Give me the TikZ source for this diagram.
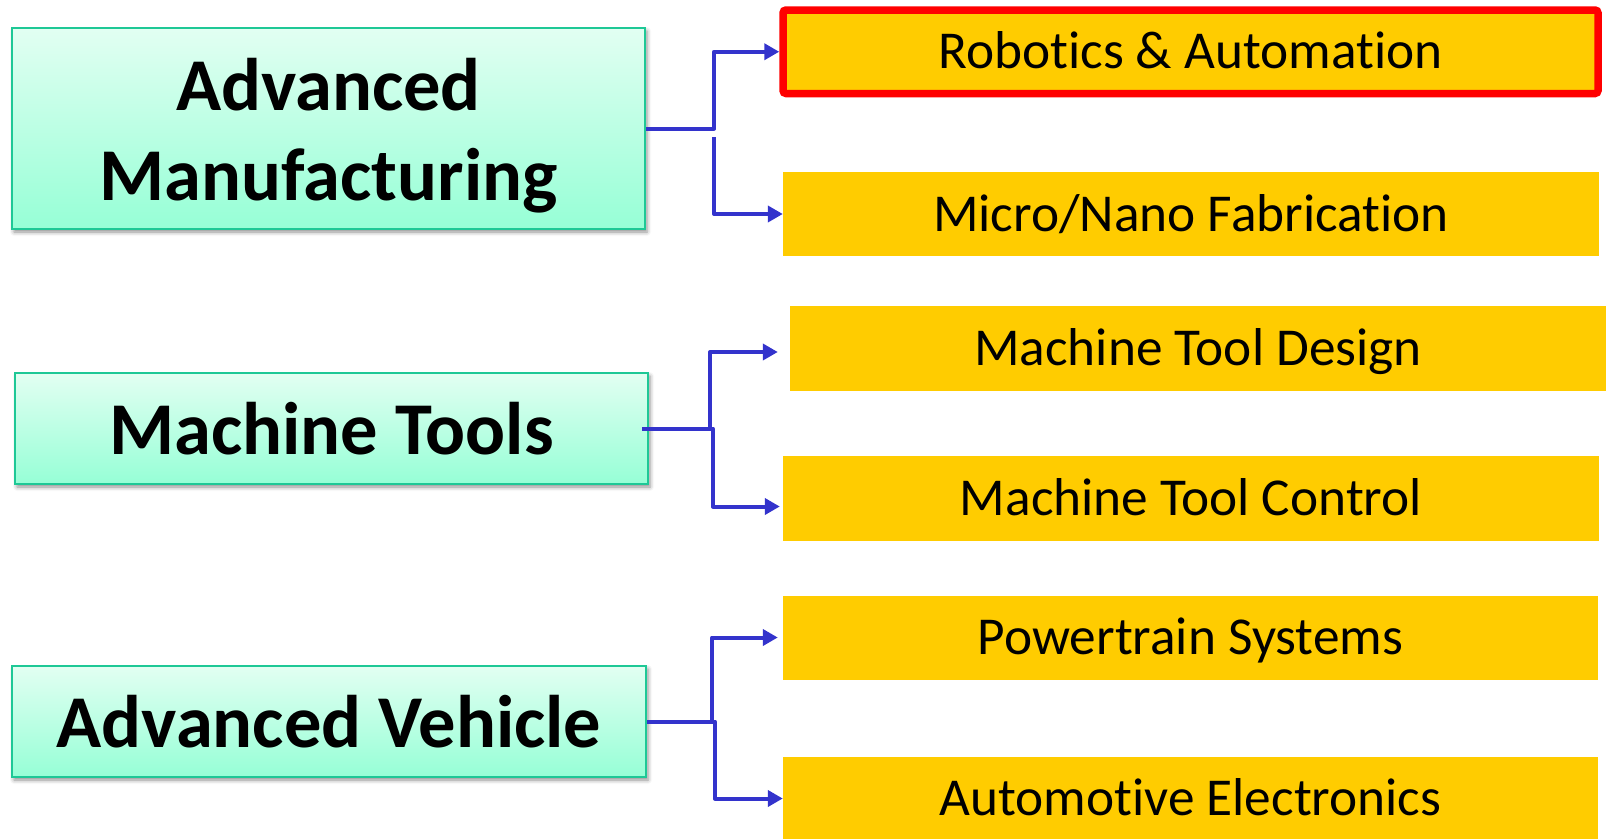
\documentclass[tikz,border=0pt]{standalone}
\usepackage{fontspec}
\setmainfont{Carlito}[Ligatures=NoCommon]
\usetikzlibrary{arrows.meta,shadows.blur}

\definecolor{boxedge}{RGB}{30,200,150}
\definecolor{mintTop}{RGB}{226,255,242}
\definecolor{mintBot}{RGB}{150,255,214}
\definecolor{gold}{RGB}{255,204,0}
\definecolor{linkblue}{RGB}{51,51,204}

\tikzset{
  areabox/.style={draw=boxedge, line width=2pt, top color=mintTop, bottom color=mintBot,
    inner sep=0pt, align=center, font=\fontsize{74.5}{90}\selectfont\bfseries,
    blur shadow={shadow xshift=2pt, shadow yshift=-3pt, shadow blur radius=4pt, shadow opacity=45}},
  topicbox/.style={fill=gold, inner sep=0pt, font=\fontsize{53.3}{60}\selectfont,
    text height=34pt, text depth=0pt},
  link/.style={draw=linkblue, line width=4pt, line join=round,
    -{Triangle[length=15pt,width=16pt]}},
}

\begin{document}
\begin{tikzpicture}[x=1pt,y=-1pt]
\useasboundingbox (0,0) rectangle (1606,838);

% research areas
\node[areabox, minimum width=633pt, minimum height=201pt] (am) at (328.5,128.5)
  {\rule{0pt}{66pt}Advanced\\Manufacturing};
\node[areabox, minimum width=633pt, minimum height=111pt] (mt) at (331.5,428.5) {Machine Tools};
\node[areabox, minimum width=634pt, minimum height=111pt] (av) at (329,721.5) {Advanced Vehicle};

% topics
\node[topicbox, draw=red, line width=7.5pt, rounded corners=3pt,
      minimum width=815pt, minimum height=83.5pt] (robot) at (1190.5,51.75) {Robotics \& Automation};
\node[topicbox, minimum width=816pt, minimum height=84pt] (micro) at (1191,214) {Micro/Nano Fabrication};
\node[topicbox, minimum width=816pt, minimum height=85pt] (design) at (1198,348.5) {Machine Tool Design};
\node[topicbox, minimum width=816pt, minimum height=85pt] (control) at (1191,498.5) {Machine Tool Control};
\node[topicbox, minimum width=815pt, minimum height=84pt] (power) at (1190.5,637.5) {Powertrain Systems};
\node[topicbox, minimum width=815pt, minimum height=83pt] (auto) at (1190.5,798.5) {Automotive Electronics};

% connectors
\coordinate (amsplit) at (714,137);
\draw[link] (am.east) -- ++(68,0) |- (robot.west);
\draw[link] (amsplit) |- (micro.west);

\draw[link, shorten >=12pt] ([xshift=-7pt]mt.east) -- ++(68,0) |- ([yshift=-3.5pt]design.west);
\draw[link, shorten >=3pt] ([xshift=-7pt]mt.east) -- ++(71,0) |- ([yshift=-8pt]control.west);

\draw[link, shorten >=5pt] (av.east) -- ++(65,0) |- (power.west);
\draw[link] (av.east) -- ++(68,0) |- (auto.west);
\end{tikzpicture}
\end{document}
